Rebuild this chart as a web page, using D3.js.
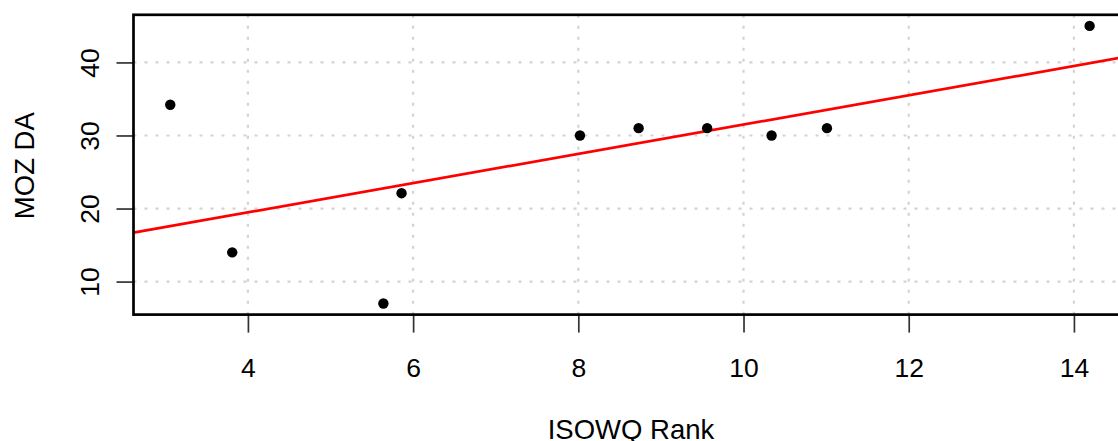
<!DOCTYPE html>
<html>
<head>
<meta charset="utf-8">
<script src="https://cdn.jsdelivr.net/npm/d3@7"></script>
<style>
  html, body { margin: 0; padding: 0; background: #fff; }
  svg { display: block; }
  text { font-family: "Liberation Sans", Arial, sans-serif; fill: #000; }
</style>
</head>
<body>
<svg id="chart" width="1118" height="441"></svg>
<script>
// ---- data ----
const isowqRank = [3.06, 3.81, 5.64, 5.86, 8.02, 8.73, 9.56, 10.34, 11.01, 14.19];
const mozDA     = [34.2, 14,   7,    22.1, 30,   31,   31,   30,    31,    45];
const xTicks = [4, 6, 8, 10, 12, 14];
const yTicks = [10, 20, 30, 40];
const xLabel = "ISOWQ Rank";
const yLabel = "MOZ DA";

(function () {
// ---- layout ----
const plotLeft = 133.5, plotTop = 14.8, plotBottom = 314.6;
const pxPerX = 82.6;
const tickFont = 26.5, labelFont = 27.5;

const svg = d3.select("#chart");

// R-style 4% extended domains
const xExt = d3.extent(isowqRank), yExt = d3.extent(mozDA);
const xPad = (xExt[1] - xExt[0]) * 0.04, yPad = (yExt[1] - yExt[0]) * 0.04;
const xDom = [xExt[0] - xPad, xExt[1] + xPad];
const yDom = [yExt[0] - yPad, yExt[1] + yPad];
const plotRight = plotLeft + (xDom[1] - xDom[0]) * pxPerX;

const x = d3.scaleLinear().domain(xDom).range([plotLeft, plotRight]);
const y = d3.scaleLinear().domain(yDom).range([plotBottom, plotTop]);

// clip for plot region
svg.append("defs").append("clipPath").attr("id", "plotclip")
  .append("rect").attr("x", plotLeft).attr("y", plotTop)
  .attr("width", plotRight - plotLeft).attr("height", plotBottom - plotTop);

// grid
const grid = svg.append("g").attr("stroke", "#d3d3d3").attr("stroke-width", 2.2)
  .attr("stroke-dasharray", "3,8");
grid.selectAll("line.vx").data(xTicks).join("line").attr("class", "vx")
  .attr("x1", d => x(d)).attr("x2", d => x(d))
  .attr("y1", plotTop).attr("y2", plotBottom);
grid.selectAll("line.hy").data(yTicks).join("line").attr("class", "hy")
  .attr("x1", plotLeft).attr("x2", plotRight)
  .attr("y1", d => y(d)).attr("y2", d => y(d));

// regression line (least squares)
const n = isowqRank.length;
const mx = d3.mean(isowqRank), my = d3.mean(mozDA);
let sxy = 0, sxx = 0;
for (let i = 0; i < n; i++) {
  sxy += (isowqRank[i] - mx) * (mozDA[i] - my);
  sxx += (isowqRank[i] - mx) ** 2;
}
const slope = sxy / sxx, intercept = my - slope * mx;
svg.append("line")
  .attr("clip-path", "url(#plotclip)")
  .attr("x1", x(xDom[0])).attr("y1", y(intercept + slope * xDom[0]))
  .attr("x2", x(xDom[1])).attr("y2", y(intercept + slope * xDom[1]))
  .attr("stroke", "#ff0000").attr("stroke-width", 2.7);

// points
svg.append("g").selectAll("circle").data(isowqRank.map((v, i) => [v, mozDA[i]]))
  .join("circle")
  .attr("cx", d => x(d[0])).attr("cy", d => y(d[1]))
  .attr("r", 5.2).attr("fill", "#000");

// axes
const xAxis = d3.axisBottom(x).tickValues(xTicks).tickSize(18).tickFormat(d3.format("d"));
const gx = svg.append("g").attr("transform", `translate(0,${plotBottom})`).call(xAxis);
gx.select(".domain").remove();
gx.selectAll(".tick line").attr("stroke", "#333").attr("stroke-width", 1.7);
gx.selectAll(".tick text").attr("font-size", tickFont).attr("fill", "#000")
  .style("font-family", "Liberation Sans, Arial, sans-serif")
  .attr("y", 377 - plotBottom).attr("dy", null);

const yAxis = d3.axisLeft(y).tickValues(yTicks).tickSize(17).tickFormat(d3.format("d"));
const gy = svg.append("g").attr("transform", `translate(${plotLeft},0)`).call(yAxis);
gy.select(".domain").remove();
gy.selectAll(".tick line").attr("stroke", "#333").attr("stroke-width", 1.7);
gy.selectAll(".tick text")
  .attr("font-size", tickFont).attr("fill", "#000")
  .style("font-family", "Liberation Sans, Arial, sans-serif")
  .attr("x", null).attr("dy", null)
  .attr("text-anchor", "middle")
  .attr("transform", `translate(${98.5 - plotLeft},0) rotate(-90)`);

// box
svg.append("rect").attr("x", plotLeft).attr("y", plotTop)
  .attr("width", plotRight - plotLeft).attr("height", plotBottom - plotTop)
  .attr("fill", "none").attr("stroke", "#000").attr("stroke-width", 2.7);

// axis titles
svg.append("text").attr("x", (plotLeft + plotRight) / 2 + 1).attr("y", 438.5)
  .attr("text-anchor", "middle").attr("font-size", labelFont).text(xLabel);
svg.append("text")
  .attr("transform", `translate(33.5,${(plotTop + plotBottom) / 2 + 1}) rotate(-90)`)
  .attr("text-anchor", "middle").attr("font-size", labelFont).text(yLabel);
})();
</script>
</body>
</html>
